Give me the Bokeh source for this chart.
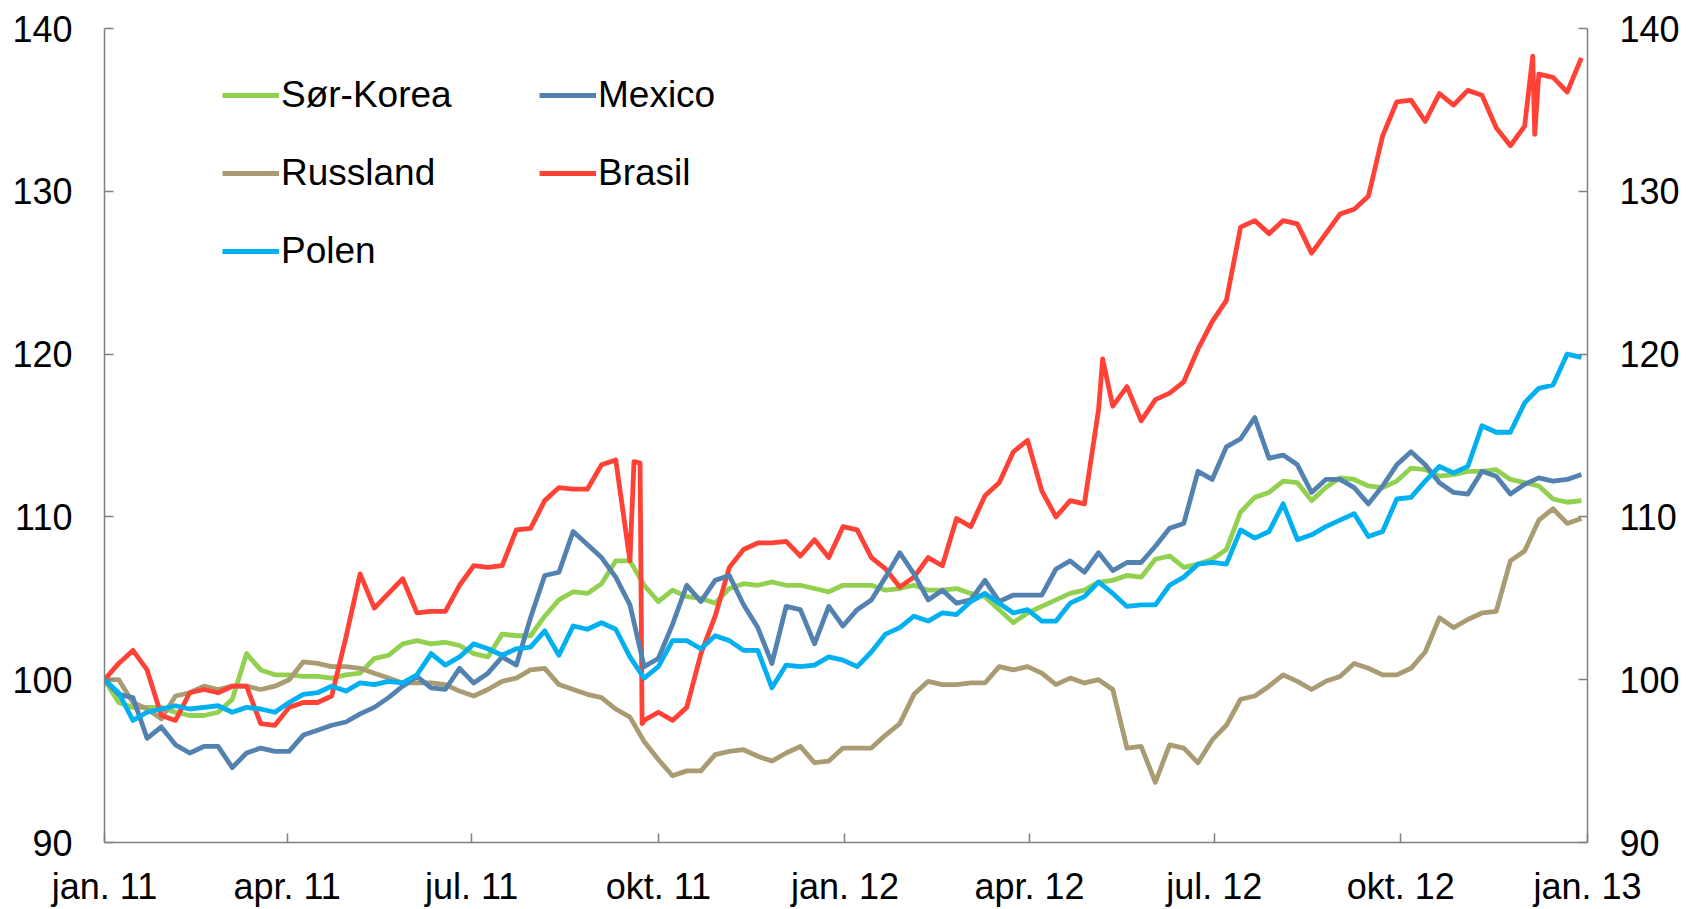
import pandas as pd
from bokeh.plotting import figure
from bokeh.models import (ColumnDataSource, Range1d, LinearAxis, FixedTicker,
                          Legend, LegendItem)
from bokeh.embed import file_html
from bokeh.resources import INLINE

# ---------------- data ----------------
week_dates = pd.date_range("2011-01-01", periods=105, freq="7D")

sor_korea = [
    100.0, 98.6, 98.3, 98.3, 98.3, 98.0, 97.8, 97.8, 98.0, 98.8,
    101.6, 100.6, 100.3, 100.3, 100.2, 100.2, 100.1, 100.3, 100.4, 101.3,
    101.5, 102.2, 102.4, 102.2, 102.3, 102.1, 101.6, 101.4, 102.8, 102.7,
    102.7, 103.9, 104.9, 105.4, 105.3, 105.9, 107.3, 107.3, 105.8, 104.8,
    105.5, 105.1, 105.0, 104.7, 105.6, 105.9, 105.8, 106.0, 105.8, 105.8,
    105.6, 105.4, 105.8, 105.8, 105.8, 105.5, 105.6, 105.8, 105.5, 105.5,
    105.6, 105.3, 105.1, 104.3, 103.5, 104.1, 104.5, 104.9, 105.3, 105.5,
    106.0, 106.1, 106.4, 106.3, 107.4, 107.6, 106.9, 107.1, 107.4, 108.0,
    110.3, 111.2, 111.5, 112.2, 112.1, 111.0, 111.8, 112.4, 112.3, 111.9,
    111.8, 112.2, 113.0, 112.9, 112.5, 112.6, 112.8, 112.8, 112.9, 112.3,
    112.1, 111.9, 111.1, 110.9, 111.0,
]

mexico = [
    100.0, 99.1, 98.9, 96.4, 97.1, 96.0, 95.5, 95.9, 95.9, 94.6,
    95.5, 95.8, 95.6, 95.6, 96.6, 96.9, 97.2, 97.4, 97.9, 98.3,
    98.9, 99.6, 100.2, 99.5, 99.4, 100.7, 99.8, 100.4, 101.4, 100.9,
    103.8, 106.4, 106.6, 109.1, 108.3, 107.5, 106.3, 104.6, 100.8, 101.3,
    103.4, 105.8, 104.8, 106.1, 106.4, 104.6, 103.2, 101.0, 104.5, 104.3,
    102.2, 104.5, 103.3, 104.3, 104.9, 106.3, 107.8, 106.5, 104.9, 105.5,
    104.7, 104.9, 106.1, 104.8, 105.2, 105.2, 105.2, 106.8, 107.3, 106.6,
    107.8, 106.7, 107.2, 107.2, 108.2, 109.3, 109.6, 112.8, 112.3, 114.3,
    114.8, 116.1, 113.6, 113.8, 113.2, 111.5, 112.3, 112.3, 111.8, 110.8,
    111.9, 113.2, 114.0, 113.2, 112.1, 111.5, 111.4, 112.8, 112.5, 111.4,
    112.0, 112.4, 112.2, 112.3, 112.6,
]

russland = [
    100.0, 100.0, 98.6, 98.2, 97.6, 99.0, 99.2, 99.6, 99.4, 99.6,
    99.6, 99.4, 99.6, 100.0, 101.1, 101.0, 100.8, 100.8, 100.7, 100.4,
    100.1, 99.8, 99.8, 99.8, 99.7, 99.3, 99.0, 99.4, 99.9, 100.1,
    100.6, 100.7, 99.7, 99.4, 99.1, 98.9, 98.2, 97.7, 96.2, 95.1,
    94.1, 94.4, 94.4, 95.4, 95.6, 95.7, 95.3, 95.0, 95.5, 95.9,
    94.9, 95.0, 95.8, 95.8, 95.8, 96.6, 97.3, 99.1, 99.9, 99.7,
    99.7, 99.8, 99.8, 100.8, 100.6, 100.8, 100.4, 99.7, 100.1, 99.8,
    100.0, 99.4, 95.8, 95.9, 93.7, 96.0, 95.8, 94.9, 96.3, 97.2,
    98.8, 99.0, 99.6, 100.3, 99.9, 99.4, 99.9, 100.2, 101.0, 100.7,
    100.3, 100.3, 100.7, 101.7, 103.8, 103.2, 103.7, 104.1, 104.2, 107.3,
    107.9, 109.8, 110.5, 109.6, 109.9,
]

brasil = [
    100.0, 101.0, 101.8, 100.6, 97.8, 97.5, 99.2, 99.4, 99.2, 99.6,
    99.6, 97.3, 97.2, 98.3, 98.6, 98.6, 99.0, 102.6, 106.5, 104.4,
    105.3, 106.2, 104.1, 104.2, 104.2, 105.8, 107.0, 106.9, 107.0, 109.2,
    109.3, 111.0, 111.8, 111.7, 111.7, 113.2, 113.5, 107.3, 97.5, 98.0,
    97.5, 98.3, 101.6, 103.9, 106.9, 108.0, 108.4, 108.4, 108.5, 107.6,
    108.6, 107.5, 109.4, 109.2, 107.5, 106.8, 105.7, 106.3, 107.5, 107.0,
    109.9, 109.4, 111.3, 112.1, 114.0, 114.7, 111.6, 110.0, 111.0, 110.8,
    116.6, 116.8, 118.0, 115.9, 117.2, 117.6, 118.3, 120.3, 122.0, 123.3,
    127.8, 128.2, 127.4, 128.2, 128.0, 126.2, 127.4, 128.6, 128.9, 129.7,
    133.4, 135.5, 135.6, 134.3, 136.0, 135.3, 136.2, 135.9, 133.9, 132.8,
    134.0, 137.2, 137.0, 136.1, 138.2,
]
# short-lived spikes of the Brasil series between the weekly readings
brasil_extra_dates = ["2011-09-19", "2011-09-22", "2011-09-23",
                      "2012-05-07", "2012-12-05", "2012-12-06"]
brasil_extra_values = [113.4, 113.3, 97.3, 119.7, 138.3, 133.5]

polen = [
    100.0, 99.2, 97.5, 98.0, 98.2, 98.4, 98.2, 98.3, 98.4, 98.0,
    98.3, 98.2, 98.0, 98.6, 99.1, 99.2, 99.6, 99.3, 99.8, 99.7,
    99.9, 99.8, 100.3, 101.6, 100.9, 101.4, 102.2, 101.9, 101.5, 101.9,
    102.0, 103.0, 101.5, 103.3, 103.1, 103.5, 103.1, 101.4, 100.1, 100.8,
    102.4, 102.4, 101.9, 102.7, 102.4, 101.8, 101.8, 99.5, 100.9, 100.8,
    100.9, 101.4, 101.2, 100.8, 101.7, 102.8, 103.2, 103.9, 103.6, 104.1,
    104.0, 104.8, 105.3, 104.7, 104.1, 104.3, 103.6, 103.6, 104.7, 105.1,
    106.0, 105.3, 104.5, 104.6, 104.6, 105.8, 106.3, 107.1, 107.2, 107.1,
    109.2, 108.7, 109.1, 110.8, 108.6, 108.9, 109.4, 109.8, 110.2, 108.8,
    109.1, 111.1, 111.2, 112.2, 113.1, 112.7, 113.1, 115.6, 115.2, 115.2,
    117.0, 117.9, 118.1, 120.0, 119.8,
]

x_tick_dates = ["2011-01-01", "2011-04-01", "2011-07-01", "2011-10-01",
                "2012-01-01", "2012-04-01", "2012-07-01", "2012-10-01",
                "2013-01-01"]
x_tick_labels = ["jan. 11", "apr. 11", "jul. 11", "okt. 11", "jan. 12",
                 "apr. 12", "jul. 12", "okt. 12", "jan. 13"]
y_ticks = [90, 100, 110, 120, 130, 140]

names = ["Sør-Korea", "Mexico", "Russland", "Brasil", "Polen"]
colors = {"Sør-Korea": "#92D050", "Mexico": "#5381B0", "Russland": "#A99C72",
          "Brasil": "#FF4136", "Polen": "#00B0F0"}

# ---------------- figure ----------------
FONT = "Liberation Sans"
AXIS_COLOR = "#808080"

x_start = pd.Timestamp(x_tick_dates[0])
x_end = pd.Timestamp(x_tick_dates[-1])

p = figure(width=1687, height=909, output_backend="svg", toolbar_location=None,
           x_axis_type=None, y_axis_type=None,
           x_range=Range1d(x_start, x_end), y_range=Range1d(90, 140),
           min_border_left=104, min_border_right=100,
           min_border_top=28, min_border_bottom=66)
p.outline_line_color = None
p.background_fill_color = "white"
p.border_fill_color = "white"

# series
wk = list(week_dates)
br_df = pd.DataFrame({"x": wk + list(pd.to_datetime(brasil_extra_dates)),
                      "y": brasil + brasil_extra_values}).sort_values("x")

series = {
    "Sør-Korea": (wk, sor_korea),
    "Mexico": (wk, mexico),
    "Russland": (wk, russland),
    "Brasil": (list(br_df["x"]), list(br_df["y"])),
    "Polen": (wk, polen),
}
draw_order = ["Sør-Korea", "Russland", "Brasil", "Mexico", "Polen"]
renderers = {}
for name in draw_order:
    xs, ys = series[name]
    src = ColumnDataSource(dict(x=xs, y=ys))
    renderers[name] = p.line("x", "y", source=src, line_color=colors[name],
                             line_width=4.8, line_join="round")

# axes
tick_ms = [int(pd.Timestamp(d).value // 10**6) for d in x_tick_dates]
xaxis = LinearAxis(ticker=FixedTicker(ticks=tick_ms),
                   major_label_overrides={t: l for t, l in zip(tick_ms, x_tick_labels)})
p.add_layout(xaxis, "below")
yleft = LinearAxis(ticker=FixedTicker(ticks=y_ticks))
p.add_layout(yleft, "left")
yright = LinearAxis(ticker=FixedTicker(ticks=y_ticks))
p.add_layout(yright, "right")

for ax in (xaxis, yleft, yright):
    ax.axis_line_color = AXIS_COLOR
    ax.axis_line_width = 1.5
    ax.major_tick_line_color = AXIS_COLOR
    ax.major_tick_line_width = 1.5
    ax.major_tick_in = 9
    ax.major_tick_out = 0
    ax.minor_tick_line_color = None
    ax.major_label_text_font = FONT
    ax.major_label_text_font_size = "36px"
    ax.major_label_text_color = "black"
xaxis.major_label_standoff = 23
yleft.major_label_standoff = 32
yright.major_label_standoff = 32

# legends (two columns)
def make_legend(items, loc):
    lg = Legend(items=items, location=loc, orientation="vertical",
                label_text_font=FONT, label_text_font_size="37px",
                label_text_color="black",
                glyph_width=57, glyph_height=44, label_height=44, spacing=34,
                label_standoff=2, padding=0, margin=0,
                border_line_color=None, background_fill_alpha=0)
    p.add_layout(lg)

make_legend([LegendItem(label=n, renderers=[renderers[n]])
             for n in ["Sør-Korea", "Russland", "Polen"]], (118, 569))
make_legend([LegendItem(label=n, renderers=[renderers[n]])
             for n in ["Mexico", "Brasil"]], (435, 647))

open("out.html", "w").write(file_html(p, INLINE))
